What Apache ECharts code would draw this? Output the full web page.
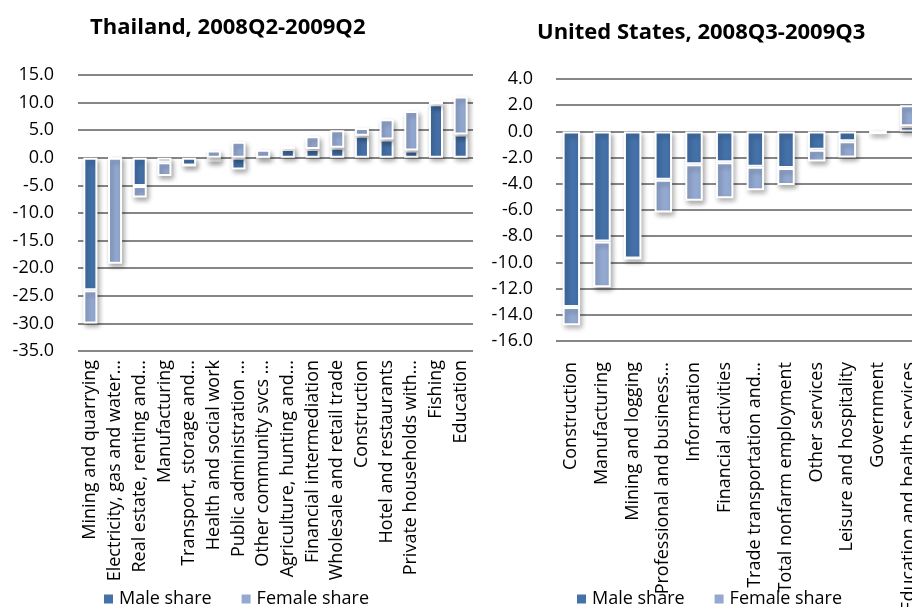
<!DOCTYPE html>
<html>
<head>
<meta charset="utf-8">
<script src="https://cdn.jsdelivr.net/npm/echarts@6/dist/echarts.min.js"></script>
<style>
  html, body { margin: 0; padding: 0; background: #fff; }
  #chart { width: 912px; height: 607px; }
</style>
</head>
<body>
<div id="chart"></div>
<script>
const thTitle = 'Thailand, 2008Q2-2009Q2';
const usTitle = 'United States, 2008Q3-2009Q3';
const seriesNames = ['Male share', 'Female share'];

const thCategories = [
  'Mining and quarrying', 'Electricity, gas and water...', 'Real estate, renting and...',
  'Manufacturing', 'Transport, storage and...', 'Health and social work',
  'Public administration ...', 'Other community svcs ...', 'Agriculture, hunting and...',
  'Financial intermediation', 'Wholesale and retail trade', 'Construction',
  'Hotel and restaurants', 'Private households with...', 'Fishing', 'Education'
];
const thMale   = [-24.0, 0, -5.1, -0.8, -1.4, -0.7, -2.1, 0, 1.6, 1.6, 1.8, 4.0, 3.3, 1.3, 9.7, 4.2];
const thFemale = [-6.0, -19.2, -2.1, -2.5, 0, 1.3, 2.9, 1.45, 0.5, 2.3, 3.2, 1.4, 3.7, 7.2, 0.6, 6.9];

const usCategories = [
  'Construction', 'Manufacturing', 'Mining and logging', 'Professional and business...',
  'Information', 'Financial activities', 'Trade transportation and...',
  'Total nonfarm employment', 'Other services', 'Leisure and hospitality',
  'Government', 'Education and health services'
];
const usMale   = [-13.4, -8.4, -9.7, -3.7, -2.5, -2.35, -2.7, -2.8, -1.4, -0.75, 0, 0.4];
const usFemale = [-1.4, -3.5, 0, -2.5, -2.8, -2.75, -1.8, -1.3, -0.9, -1.25, -0.2, 1.6];

const thAxis = { min: -35, max: 15, interval: 5 };
const usAxis = { min: -16, max: 4, interval: 2 };

const darkColor = '#4471a8';
const lightColor = '#94a9d1';
const gridColor = '#868686';
const font = 'Open Sans';

function barStyle(color) {
  return {
    color: color,
    borderColor: '#ffffff',
    borderWidth: 2,
    shadowColor: 'rgba(0,0,0,0.32)',
    shadowBlur: 5,
    shadowOffsetX: 2,
    shadowOffsetY: 3
  };
}

function yAxisCfg(idx, ax, margin) {
  return {
    type: 'value', gridIndex: idx,
    min: ax.min, max: ax.max, interval: ax.interval,
    axisLine: { show: false }, axisTick: { show: false },
    axisLabel: {
      margin: margin, color: '#000', fontFamily: font, fontSize: 18,
      formatter: v => v.toFixed(1)
    },
    splitLine: { show: true, lineStyle: { color: gridColor, width: 2 } }
  };
}

function xAxisCfg(idx, cats, margin) {
  return {
    type: 'category', gridIndex: idx, data: cats,
    axisLine: { show: false }, axisTick: { show: false },
    axisLabel: {
      rotate: 90, interval: 0, margin: margin, color: '#000',
      fontFamily: font, fontSize: 18
    }
  };
}

function seriesCfg(idx, male, female, stack) {
  return [
    { name: seriesNames[0], type: 'bar', xAxisIndex: idx, yAxisIndex: idx, stack: stack,
      data: male, barWidth: '57%', itemStyle: barStyle(darkColor) },
    { name: seriesNames[1], type: 'bar', xAxisIndex: idx, yAxisIndex: idx, stack: stack,
      data: female, barWidth: '57%', itemStyle: barStyle(lightColor) }
  ];
}

const legendBase = {
  data: seriesNames, icon: 'rect', itemWidth: 11, itemHeight: 11, itemGap: 28,
  textStyle: { color: '#000', fontFamily: font, fontSize: 18 }
};

const chart = echarts.init(document.getElementById('chart'), null, { renderer: 'canvas' });
chart.setOption({
  animation: false,
  backgroundColor: '#fff',
  title: [
    { text: thTitle, left: 85, top: 12,
      textStyle: { fontFamily: font, fontWeight: 'bold', fontSize: 22, color: '#000' } },
    { text: usTitle, left: 532, top: 17,
      textStyle: { fontFamily: font, fontWeight: 'bold', fontSize: 22, color: '#000' } }
  ],
  legend: [
    Object.assign({ left: 97, top: 585 }, legendBase),
    Object.assign({ left: 570, top: 585 }, legendBase)
  ],
  grid: [
    { left: 78, top: 75, width: 395, height: 276, outerBoundsMode: 'none', containLabel: false },
    { left: 556, top: 79, right: -12, height: 262, outerBoundsMode: 'none', containLabel: false }
  ],
  xAxis: [xAxisCfg(0, thCategories, 9), xAxisCfg(1, usCategories, 21)],
  yAxis: [yAxisCfg(0, thAxis, 24), yAxisCfg(1, usAxis, 23)],
  series: [].concat(seriesCfg(0, thMale, thFemale, 'th'), seriesCfg(1, usMale, usFemale, 'us'))
});
</script>
</body>
</html>
